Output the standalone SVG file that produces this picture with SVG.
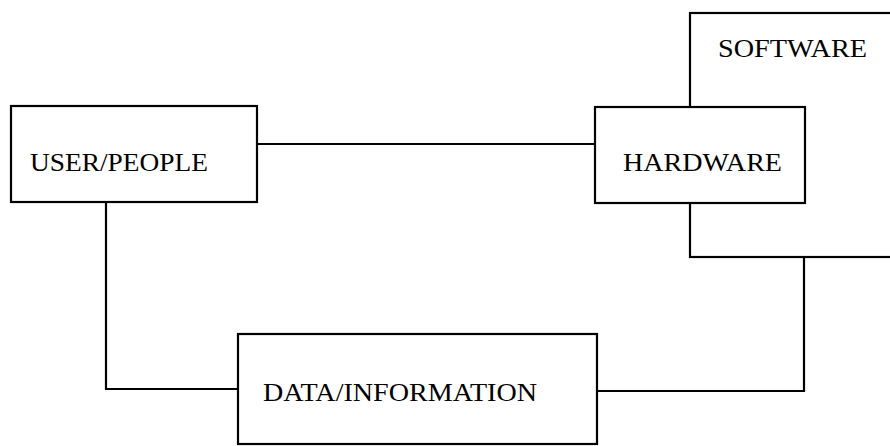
<svg xmlns="http://www.w3.org/2000/svg" width="890" height="446" viewBox="0 0 890 446">
<style>
.box{fill:#fff;stroke:#000;stroke-width:2.2}
.lbl{font-family:"Liberation Serif","Times New Roman",serif;font-size:26px;fill:#000}
.conn{fill:none;stroke:#000;stroke-width:2.2}
</style>
<rect width="890" height="446" fill="#fff"/>
<g id="connectors">
<line class="conn" x1="257" y1="144" x2="595" y2="144"/>
<polyline class="conn" points="106,202 106,389 238,389"/>
<polyline class="conn" points="597,391 804,391 804,257"/>
</g>
<g id="software">
<rect class="box" x="690" y="13" width="210" height="244"/>
<text class="lbl" x="718" y="57" textLength="149" lengthAdjust="spacingAndGlyphs">SOFTWARE</text>
</g>
<g id="hardware">
<rect class="box" x="595" y="107" width="210" height="96"/>
<text class="lbl" x="623" y="171" textLength="159" lengthAdjust="spacingAndGlyphs">HARDWARE</text>
</g>
<g id="user">
<rect class="box" x="11" y="106" width="246" height="96"/>
<text class="lbl" x="30" y="171" textLength="178" lengthAdjust="spacingAndGlyphs">USER/PEOPLE</text>
</g>
<g id="data">
<rect class="box" x="238" y="334" width="359" height="110"/>
<text class="lbl" x="263" y="401" textLength="274" lengthAdjust="spacingAndGlyphs">DATA/INFORMATION</text>
</g>
</svg>
